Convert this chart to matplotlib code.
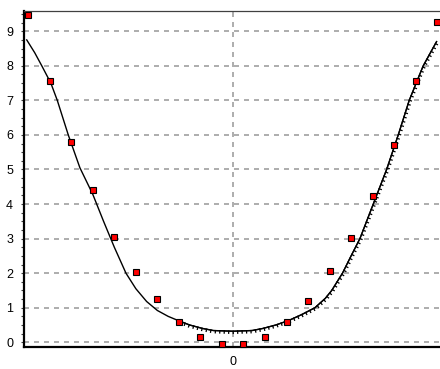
import matplotlib
matplotlib.use("Agg")
import matplotlib.pyplot as plt
import matplotlib.patheffects as pe
from matplotlib.ticker import MultipleLocator, FixedLocator

# Data points (red squares)
point_x = [-9.5, -8.5, -7.5, -6.5, -5.5, -4.5, -3.5, -2.5, -1.5, -0.5,
           0.5, 1.5, 2.5, 3.5, 4.5, 5.5, 6.5, 7.5, 8.5, 9.5]
point_y = [9.48, 7.56, 5.80, 4.40, 3.04, 2.03, 1.24, 0.60, 0.15, -0.04,
           -0.04, 0.15, 0.60, 1.19, 2.07, 3.03, 4.24, 5.71, 7.56, 9.28]

# Fitted curve samples
curve_x = [-9.57, -9.2, -8.87, -8.45, -8.15, -7.64, -7.1, -6.5, -6.0, -5.5,
           -4.96, -4.5, -4.0, -3.5, -3.0, -2.5, -2.0, -1.4, -0.9, 0.0,
           0.9, 1.4, 2.0, 2.6, 3.2, 3.82, 4.3, 4.6, 5.1, 5.5, 5.91, 6.53,
           7.15, 7.69, 8.2, 8.85, 9.47]
curve_y = [8.75, 8.38, 8.0, 7.5, 7.0, 6.0, 5.05, 4.28, 3.5, 2.75,
           2.0, 1.55, 1.18, 0.92, 0.75, 0.62, 0.5, 0.4, 0.34, 0.32,
           0.34, 0.4, 0.5, 0.63, 0.8, 1.0, 1.27, 1.5, 2.0, 2.5, 3.0, 4.0,
           5.0, 6.0, 7.0, 8.0, 8.7]

ytick_values = [0, 1, 2, 3, 4, 5, 6, 7, 8, 9]
xtick_values = [0]
xtick_labels = ["0"]

plt.rcParams['font.family'] = ['Liberation Sans', 'DejaVu Sans']

fig = plt.figure(figsize=(4.4, 3.69), dpi=100)
W, H = 440, 369
left, right, top, bottom = 23.5, 440, 10.7, 346.7
ax = fig.add_axes([left / W, (H - bottom) / H, (right - left) / W, (bottom - top) / H])

ax.set_xlim(-9.72, 9.63)
ax.set_ylim(-0.128, 9.595)

grid_kw = dict(color='#a0a0a0', linewidth=1.2, linestyle=(0, (3, 3)), zorder=1)
for v in ytick_values:
    ax.axhline(v, **grid_kw)
for v in xtick_values:
    ax.axvline(v, **grid_kw)

# curve
ax.plot(curve_x, curve_y, color='black', linewidth=1.0, zorder=2)
hatch_x = [x for x in curve_x if x >= -2.6]
hatch_y = [y for x, y in zip(curve_x, curve_y) if x >= -2.6]
ax.plot(hatch_x, hatch_y, color='black', linewidth=0.9, zorder=2,
        path_effects=[pe.withTickedStroke(angle=-90, spacing=3.2, length=0.5)])

ax.plot(point_x, point_y, linestyle='none', marker='s', markersize=4.6,
        markerfacecolor='#ff0000', markeredgecolor='black', markeredgewidth=0.8,
        zorder=3, clip_on=False)

ax.yaxis.set_major_locator(FixedLocator(ytick_values))
ax.yaxis.set_minor_locator(MultipleLocator(0.25))
ax.set_yticklabels([str(v) for v in ytick_values])
ax.xaxis.set_major_locator(FixedLocator(xtick_values))
ax.set_xticklabels(xtick_labels)

ax.tick_params(axis='y', which='major', length=2.5, width=0.8, pad=5, labelsize=9, color='#404040')
ax.tick_params(axis='y', which='minor', length=2.5, width=0.8, color='#404040')
ax.tick_params(axis='x', which='major', length=0, pad=7, labelsize=9)

for s in ['left', 'bottom']:
    ax.spines[s].set_linewidth(1.6)
    ax.spines[s].set_color('black')
ax.spines['top'].set_linewidth(0.9)
ax.spines['top'].set_color('#404040')
ax.spines['right'].set_visible(False)

fig.savefig('out.png', dpi=100)
